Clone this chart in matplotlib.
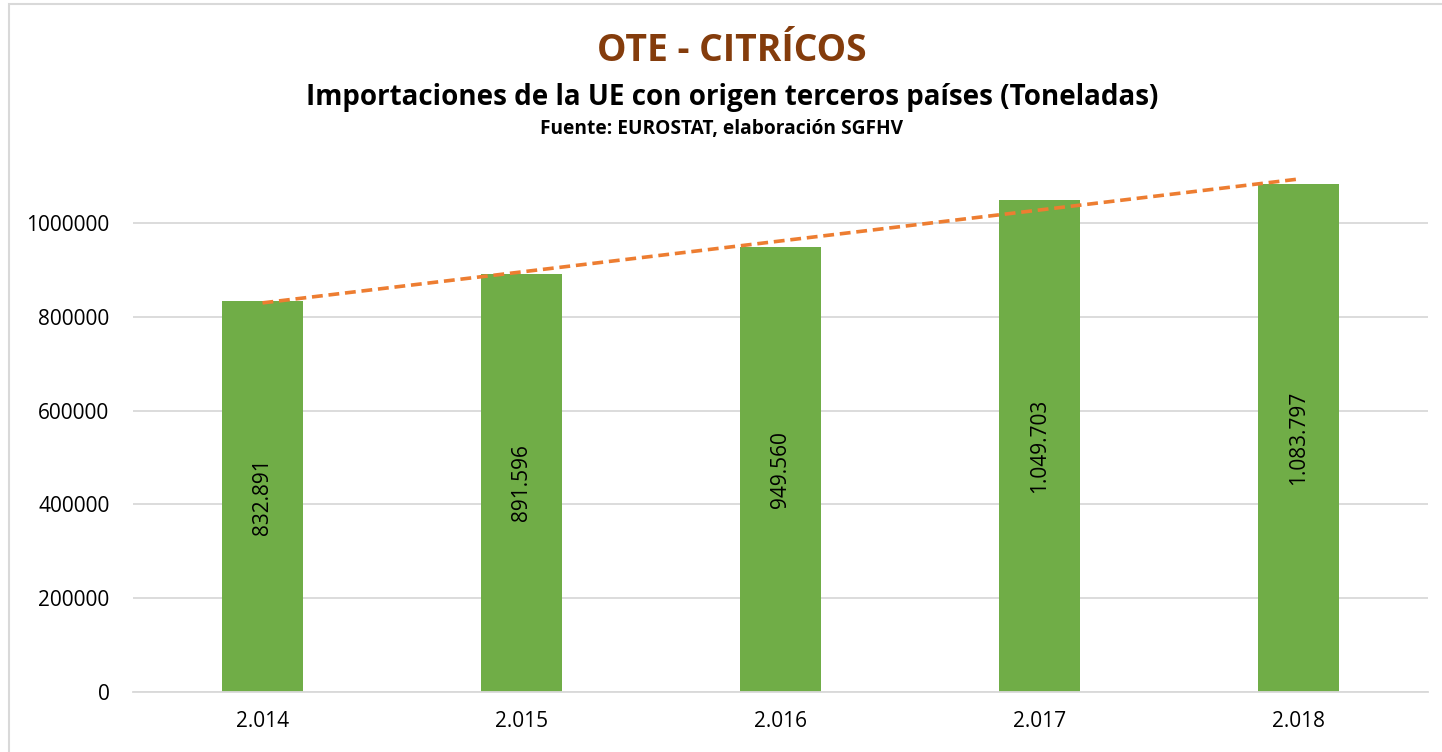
import matplotlib.pyplot as plt
import matplotlib.patches as patches
import numpy as np

# Datos: importaciones de la UE (toneladas)
years = ["2.014", "2.015", "2.016", "2.017", "2.018"]
tonnes = [832891, 891596, 949560, 1049703, 1083797]
bar_labels = ["832.891", "891.596", "949.560", "1.049.703", "1.083.797"]
y_ticks = [0, 200000, 400000, 600000, 800000, 1000000]

plt.rcParams['font.family'] = ['Open Sans', 'DejaVu Sans']

W, H = 1442, 752
fig = plt.figure(figsize=(W / 100, H / 100), dpi=100)
ax = fig.add_axes([133 / W, 1 - 692 / H, (1428 - 133) / W, (692 - 176) / H])

x = np.arange(len(years))
ax.bar(x, tonnes, width=0.31, color='#70AD47', zorder=2)

# Línea de tendencia lineal
z = np.polyfit(x, tonnes, 1)
p = np.poly1d(z)
ax.plot(x, p(x), linestyle=(0, (3, 1.6)), color='#ED7D31', lw=2.6,
        zorder=3, clip_on=False)

for xi, v, lab in zip(x, tonnes, bar_labels):
    ax.text(xi, v / 2, lab, rotation=90, ha='center', va='center',
            fontsize=15, color='black', zorder=4)

ax.set_xlim(-0.5, len(years) - 0.5)
ax.set_ylim(0, 1100000)
ax.set_yticks(y_ticks)
ax.set_yticklabels([str(t) for t in y_ticks], fontsize=15)
ax.set_xticks(x)
ax.set_xticklabels(years, fontsize=15)
ax.tick_params(axis='both', length=0)
ax.tick_params(axis='x', pad=14)
ax.tick_params(axis='y', pad=17)
ax.yaxis.grid(True, color='#D9D9D9', lw=1.3, zorder=0)
for s in ['top', 'right', 'left']:
    ax.spines[s].set_visible(False)
ax.spines['bottom'].set_color('#D9D9D9')
ax.spines['bottom'].set_linewidth(1.3)

# Títulos
fig.text(732 / W, 1 - 51 / H, "OTE - CITRÍCOS", ha='center', va='center',
         fontsize=26.8, fontweight='bold', color='#843C0C')
fig.text(732 / W, 1 - 97 / H,
         "Importaciones de la UE con origen terceros países (Toneladas)",
         ha='center', va='center', fontsize=20, fontweight='bold')
fig.text(722 / W, 1 - 129 / H, "Fuente: EUROSTAT, elaboración SGFHV",
         ha='center', va='center', fontsize=13.8, fontweight='bold')

# Borde del gráfico
fig.patches.append(patches.Rectangle((8.5 / W, -0.1), 1.2, 1 - 3.5 / H + 0.1,
                                     transform=fig.transFigure, fill=False,
                                     edgecolor='#D9D9D9', lw=1.5))

fig.savefig('out.png', dpi=100)
